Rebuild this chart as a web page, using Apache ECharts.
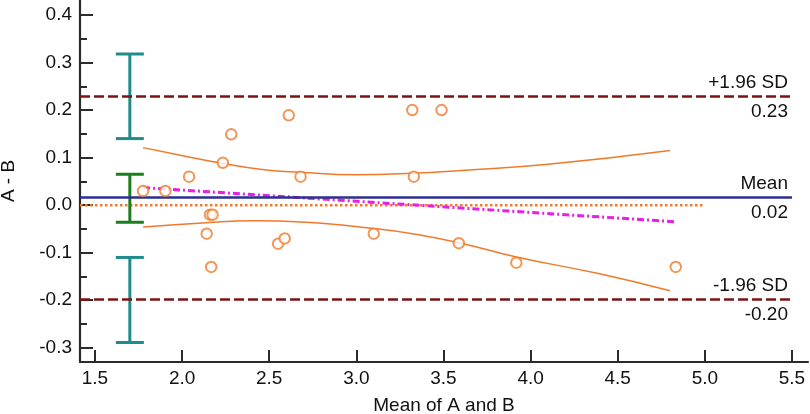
<!DOCTYPE html>
<html>
<head>
<meta charset="utf-8">
<script src="https://cdn.jsdelivr.net/npm/echarts@6/dist/echarts.min.js"></script>
<style>
  html, body { margin: 0; padding: 0; background: #fff; }
  #chart { width: 810px; height: 414px; }
</style>
</head>
<body>
<div id="chart"></div>
<script>
// 数据
const meanAB = [1.776, 1.904, 2.04, 2.234, 2.282, 2.612, 2.68, 3.321, 3.489, 3.33,
                2.16, 2.175, 2.141, 2.167, 2.551, 2.589, 3.10, 3.588, 3.918, 4.833];
const diffAB = [0.03, 0.03, 0.06, 0.089, 0.149, 0.189, 0.06, 0.20, 0.20, 0.06,
                -0.02, -0.02, -0.06, -0.13, -0.081, -0.07, -0.06, -0.08, -0.121, -0.13];

// regression line and its confidence band
const regX = [1.776, 4.833];
const regY = [0.037, -0.035];
const bandX = [1.776, 1.99, 2.23, 2.46, 2.68, 3.0, 3.32, 3.6, 4.1, 4.8];
const bandUpper = [0.121, 0.105, 0.088, 0.075, 0.069, 0.064, 0.067, 0.073, 0.086, 0.115];
const bandLowerX = [1.776, 2.139, 2.406, 2.711, 3.10, 3.321, 3.588, 3.918, 4.389, 4.8];
const bandLower = [-0.046, -0.037, -0.033, -0.036, -0.049, -0.060, -0.079, -0.109, -0.144, -0.180];

// limits of agreement
const meanDiff = 0.016;
const upperLoA = 0.229;
const lowerLoA = -0.199;
const limitEndX = 5.5;
const zeroEndX = 5.0;

// confidence intervals of the limits: [low, high] at x = ciX
const ciX = 1.7;
const ciUpper = [0.140, 0.318];
const ciMean = [-0.036, 0.065];
const ciLower = [-0.289, -0.110];

const xTicks = [1.5, 2.0, 2.5, 3.0, 3.5, 4.0, 4.5, 5.0, 5.5];
const yTicks = [-0.3, -0.2, -0.1, 0.0, 0.1, 0.2, 0.3, 0.4];
const yMinorTicks = [-0.25, -0.15, -0.05, 0.05, 0.15, 0.25, 0.35];

const X_MIN = 1.414, X_MAX = 5.592;
const Y_MIN = -0.33, Y_MAX = 0.4316;

const zip = (xs, ys) => xs.map((x, i) => [x, ys[i]]);

const chart = echarts.init(document.getElementById('chart'));
const font = 'Liberation Sans, Arial, sans-serif';
const axisColor = '#2b2b2b';
const textColor = '#111';
const orange = '#f07a2a';

function limitLine(v, top, color, type) {
  return [
    [{ coord: [X_MIN, v], lineStyle: { color: color, width: 2.6, type: type },
       label: { show: true, position: 'insideEndTop', formatter: top, distance: [4, 4] } },
     { coord: [limitEndX, v] }],
    [{ coord: [X_MIN, v], lineStyle: { color: 'rgba(0,0,0,0)', width: 0 },
       label: { show: true, position: 'insideEndBottom', formatter: v.toFixed(2), distance: [4, 6] } },
     { coord: [limitEndX, v] }]
  ];
}

const ciData = [
  [ciX, ciUpper[0], ciUpper[1], '#1f8b8b'],
  [ciX, ciMean[0], ciMean[1], '#1c7d1c'],
  [ciX, ciLower[0], ciLower[1], '#1f8b8b']
];

const option = {
  animation: false,
  backgroundColor: '#fff',
  textStyle: { fontFamily: font },
  grid: { left: 80, top: 0, width: 728, height: 362, containLabel: false, outerBoundsMode: 'none' },
  xAxis: {
    type: 'value', min: X_MIN, max: X_MAX,
    name: 'Mean of A and B', nameLocation: 'middle', nameGap: 34,
    nameTextStyle: { fontSize: 19, color: textColor, fontFamily: font },
    axisLine: { show: true, onZero: false, lineStyle: { color: axisColor, width: 2.2 } },
    axisTick: { show: true, inside: true, length: 12, customValues: xTicks,
                lineStyle: { color: axisColor, width: 2 } },
    axisLabel: { customValues: xTicks, formatter: v => v.toFixed(1), margin: 7,
                 fontSize: 19, color: textColor, fontFamily: font },
    splitLine: { show: false }
  },
  yAxis: [
    {
      type: 'value', min: Y_MIN, max: Y_MAX,
      name: 'A - B', nameLocation: 'middle', nameGap: 62,
      nameTextStyle: { fontSize: 19, color: textColor, fontFamily: font },
      axisLine: { show: true, onZero: false, lineStyle: { color: axisColor, width: 2.2 } },
      axisTick: { show: true, inside: true, length: 13, customValues: yTicks,
                  lineStyle: { color: axisColor, width: 2 } },
      axisLabel: { customValues: yTicks, formatter: v => v.toFixed(1), margin: 8,
                   fontSize: 19, color: textColor, fontFamily: font },
      splitLine: { show: false }
    },
    {
      // minor ticks
      type: 'value', min: Y_MIN, max: Y_MAX, position: 'left',
      axisLine: { show: false },
      axisTick: { show: true, inside: true, length: 7, customValues: yMinorTicks,
                  lineStyle: { color: axisColor, width: 2 } },
      axisLabel: { show: false },
      splitLine: { show: false }
    }
  ],
  series: [
    {
      // limits and mean
      type: 'line', data: [], silent: true,
      markLine: {
        silent: true, symbol: ['none', 'none'], animation: false,
        label: { fontSize: 19, color: textColor, fontFamily: font },
        data: [
          ...limitLine(upperLoA, '+1.96 SD', '#7a1414', [10, 4]),
          ...limitLine(meanDiff, 'Mean', '#2b2f8f', 'solid'),
          ...limitLine(lowerLoA, '-1.96 SD', '#7a1414', [10, 4])
        ]
      }
    },
    {
      // line of equality
      type: 'line', data: [[X_MIN, 0], [zeroEndX, 0]], symbol: 'none', silent: true,
      lineStyle: { color: orange, width: 2.5, type: [2.5, 2.5] }, z: 1
    },
    {
      type: 'line', data: zip(bandX, bandUpper), smooth: true, symbol: 'none', silent: true,
      lineStyle: { color: orange, width: 1.5 }
    },
    {
      type: 'line', data: zip(bandLowerX, bandLower), smooth: true, symbol: 'none', silent: true,
      lineStyle: { color: orange, width: 1.5 }
    },
    {
      // regression
      type: 'line', data: zip(regX, regY), symbol: 'none', silent: true,
      lineStyle: { color: '#e61ee6', width: 3, type: [7, 3, 2, 3] }
    },
    {
      type: 'scatter', data: zip(meanAB, diffAB),
      symbol: 'emptyCircle', symbolSize: 10.5,
      itemStyle: { color: orange, borderWidth: 1.4 }, z: 5
    },
    {
      // CI error bars
      type: 'custom', data: ciData, silent: true, z: 4,
      renderItem: function (params, api) {
        const lo = api.coord([api.value(0), api.value(1)]);
        const hi = api.coord([api.value(0), api.value(2)]);
        const color = ciData[params.dataIndex][3];
        const w = 14;
        const style = { stroke: color, lineWidth: 3 };
        return {
          type: 'group',
          children: [
            { type: 'line', shape: { x1: lo[0], y1: lo[1], x2: hi[0], y2: hi[1] }, style: style },
            { type: 'line', shape: { x1: lo[0] - w, y1: lo[1], x2: lo[0] + w, y2: lo[1] }, style: style },
            { type: 'line', shape: { x1: hi[0] - w, y1: hi[1], x2: hi[0] + w, y2: hi[1] }, style: style }
          ]
        };
      }
    }
  ]
};
chart.setOption(option);
</script>
</body>
</html>
